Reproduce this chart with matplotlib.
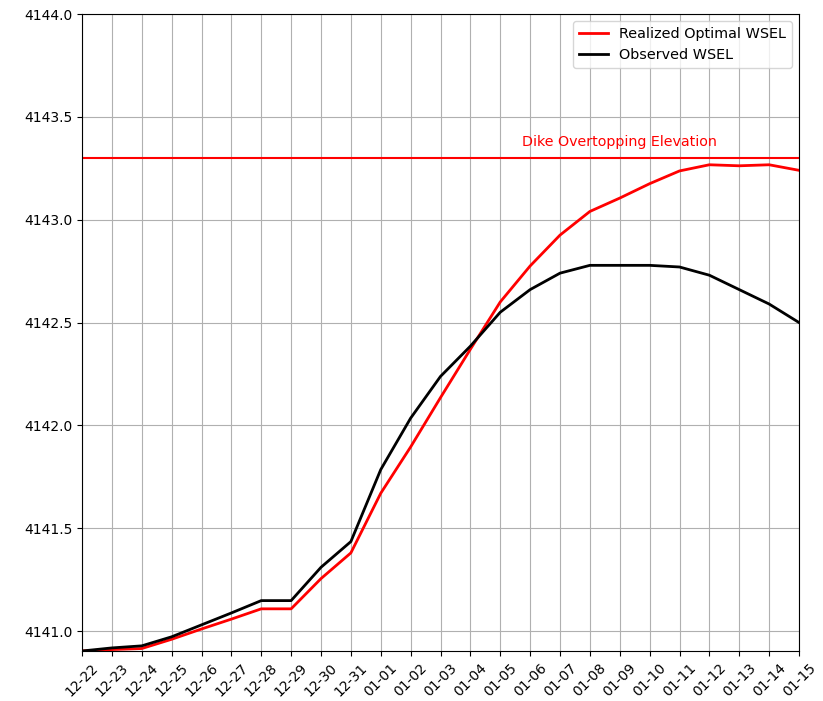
import matplotlib
matplotlib.use("Agg")
import matplotlib.pyplot as plt
import matplotlib.dates as mdates
import numpy as np
import pandas as pd

dates = pd.date_range("2022-12-22", "2023-01-15", freq="D")

optimal_wsel = [
    4140.903, 4140.910, 4140.915, 4140.960, 4141.010, 4141.058, 4141.108,
    4141.108, 4141.255, 4141.380, 4141.670, 4141.895, 4142.135, 4142.370,
    4142.600, 4142.775, 4142.925, 4143.040, 4143.105, 4143.175, 4143.237,
    4143.267, 4143.262, 4143.267, 4143.240,
]
observed_wsel = [
    4140.903, 4140.918, 4140.928, 4140.972, 4141.030, 4141.088, 4141.148,
    4141.148, 4141.310, 4141.435, 4141.785, 4142.035, 4142.238, 4142.385,
    4142.550, 4142.660, 4142.740, 4142.778, 4142.778, 4142.778, 4142.770,
    4142.730, 4142.660, 4142.590, 4142.500,
]
dike_elevation = 4143.3

fig = plt.figure(figsize=(8.23, 7.01), dpi=100)
ax = fig.add_axes([82 / 823, 50 / 701, 717 / 823, 637 / 701])

ax.plot(dates, optimal_wsel, color="red", linewidth=2, label="Realized Optimal WSEL")
ax.plot(dates, observed_wsel, color="black", linewidth=2, label="Observed WSEL")
ax.axhline(dike_elevation, color="red", linewidth=1.5)
ax.text(dates[18], dike_elevation + 0.045, "Dike Overtopping Elevation",
        color="red", ha="center", va="bottom", fontsize=10.3)

ax.set_xlim(dates[0], dates[-1])
ax.set_ylim(4140.903, 4144.0)
ax.set_yticks(np.arange(4141.0, 4144.01, 0.5))
ax.yaxis.set_major_formatter(matplotlib.ticker.FormatStrFormatter("%.1f"))
ax.set_xticks(dates)
ax.xaxis.set_major_formatter(mdates.DateFormatter("%m-%d"))
plt.setp(ax.get_xticklabels(), rotation=45)
ax.grid(True)
ax.legend(loc="upper right", fontsize=10.4)

fig.savefig("out.png", dpi=100)
